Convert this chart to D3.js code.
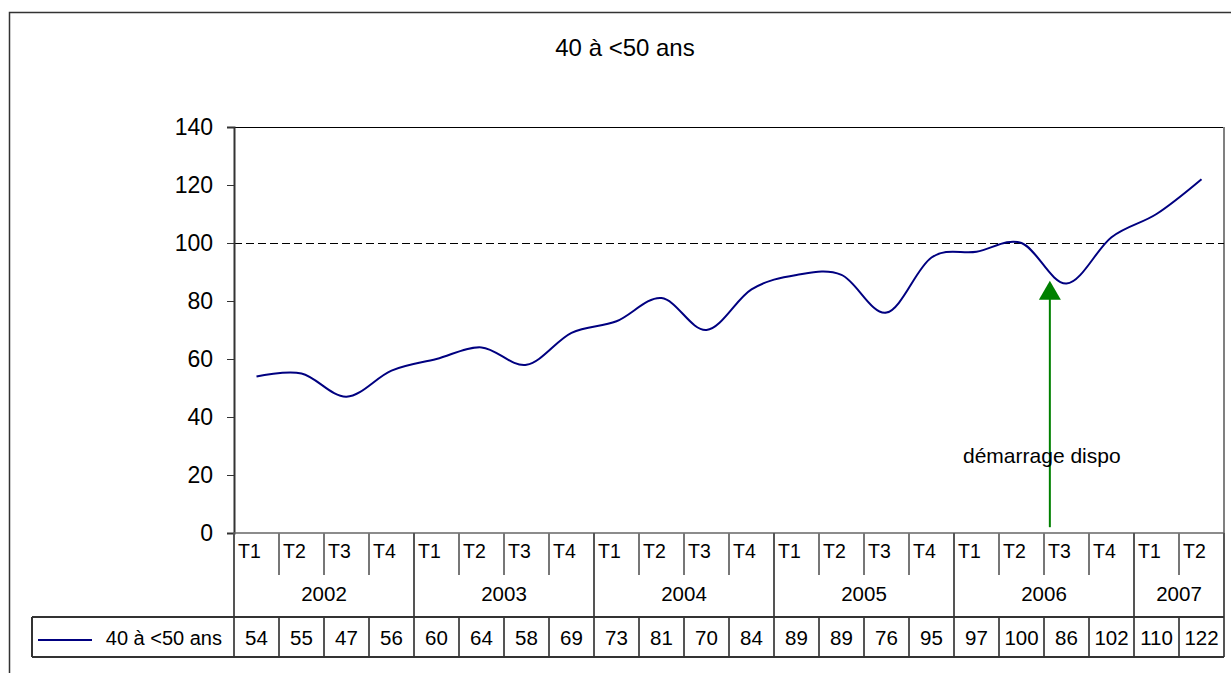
<!DOCTYPE html>
<html>
<head>
<meta charset="utf-8">
<script src="https://cdn.jsdelivr.net/npm/d3@7"></script>
<style>
body { margin: 0; background: #fff; }
svg { display: block; font-family: Arial, "Liberation Sans", sans-serif; }
</style>
</head>
<body>
<div id="chart"></div>
<script>
// Data
const seriesName = "40 à <50 ans";
const quarters = ["T1","T2","T3","T4","T1","T2","T3","T4","T1","T2","T3","T4",
                  "T1","T2","T3","T4","T1","T2","T3","T4","T1","T2"];
const years = ["2002","2003","2004","2005","2006","2007"];
const quartersPerYear = [4, 4, 4, 4, 4, 2];
const values = [54,55,47,56,60,64,58,69,73,81,70,84,89,89,76,95,97,100,86,102,110,122];
const yTicks = [0, 20, 40, 60, 80, 100, 120, 140];
const refValue = 100;
// annotation: position in category units (0 = left edge of first quarter)
const annotationText = "démarrage dispo";
const annotationAt = 18.13;
const annotationFrom = 2;
const annotationTo = 87;
const annotationTextAt = 16.2;
const annotationTextValue = 24;

// set the dimensions
var W = 1231, H = 673;
var plot = {left: 234, right: 1224, top: 127, bottom: 533};
var rowT = 575, rowYear = 617, rowVal = 657, legendLeft = 32;

var svg = d3.select("#chart")
  .append("svg")
  .attr("width", W)
  .attr("height", H);

// outer chart border
svg.append("rect")
  .attr("x", 9.5).attr("y", 12.5)
  .attr("width", 1250).attr("height", 700)
  .attr("fill", "none")
  .attr("stroke", "#333")
  .attr("stroke-width", 1.5);

// title
svg.append("text")
  .attr("x", 625).attr("y", 56)
  .attr("text-anchor", "middle")
  .style("font-size", "24px")
  .text(seriesName);

// scales
var x = d3.scaleBand()
  .domain(d3.range(values.length))
  .range([plot.left, plot.right])
  .paddingInner(0).paddingOuter(0);
var xc = d3.scaleLinear().domain([0, values.length]).range([plot.left, plot.right]);
var y = d3.scaleLinear().domain([0, 140]).range([plot.bottom, plot.top]);

// plot frame: top black, right gray
svg.append("line")
  .attr("x1", plot.left).attr("x2", plot.right)
  .attr("y1", y(140) + 0.5).attr("y2", y(140) + 0.5)
  .attr("stroke", "#000").attr("stroke-width", 1);
svg.append("line")
  .attr("x1", plot.right).attr("x2", plot.right)
  .attr("y1", plot.top).attr("y2", rowVal)
  .attr("stroke", "#808080").attr("stroke-width", 2);

// reference dashed line
svg.append("line")
  .attr("x1", plot.left).attr("x2", plot.right)
  .attr("y1", y(refValue) + 0.5).attr("y2", y(refValue) + 0.5)
  .attr("stroke", "#000").attr("stroke-width", 1)
  .attr("stroke-dasharray", "8,4");

// Y axis
var yAxis = d3.axisLeft(y).tickValues(yTicks).tickSize(7).tickPadding(14);
var gy = svg.append("g")
  .attr("transform", "translate(" + plot.left + ",0)")
  .call(yAxis);
gy.select(".domain").attr("stroke", "#333").attr("stroke-width", 2);
gy.selectAll(".tick line").attr("stroke", "#333");
gy.selectAll(".tick text")
  .style("font-size", "23px")
  .attr("fill", "#000")
  .style("font-family", "Arial, 'Liberation Sans', sans-serif");

// x axis line
svg.append("line")
  .attr("x1", plot.left).attr("x2", plot.right)
  .attr("y1", plot.bottom).attr("y2", plot.bottom)
  .attr("stroke", "#666").attr("stroke-width", 1.5);

// series line (smoothed like Excel)
var line = d3.line()
  .x(function(d, i) { return x(i) + x.bandwidth() / 2; })
  .y(function(d) { return y(d); })
  .curve(d3.curveCatmullRom.alpha(0));
svg.append("path")
  .datum(values)
  .attr("d", line)
  .attr("fill", "none")
  .attr("stroke", "#000080")
  .attr("stroke-width", 2);

// annotation arrow
var ax = xc(annotationAt);
var tipY = y(annotationTo);
svg.append("line")
  .attr("x1", ax).attr("x2", ax)
  .attr("y1", y(annotationFrom)).attr("y2", tipY + 18)
  .attr("stroke", "#008000").attr("stroke-width", 2);
svg.append("path")
  .attr("d", "M" + ax + "," + tipY + "L" + (ax + 11) + "," + (tipY + 19) + "L" + (ax - 11) + "," + (tipY + 19) + "Z")
  .attr("fill", "#008000");
svg.append("text")
  .attr("x", xc(annotationTextAt)).attr("y", y(annotationTextValue))
  .style("font-size", "21px")
  .text(annotationText);

// data table
// year boundaries
var yearStart = [];
var acc = 0;
quartersPerYear.forEach(function(n) { yearStart.push(acc); acc += n; });
var table = svg.append("g").attr("shape-rendering", "crispEdges");

// vertical separators
d3.range(values.length + 1).forEach(function(i) {
  var xx = i < values.length ? x(i) : plot.right;
  var isYear = yearStart.indexOf(i) >= 0 || i === values.length;
  if (isYear) {
    table.append("line")
      .attr("x1", xx).attr("x2", xx).attr("y1", plot.bottom).attr("y2", rowVal)
      .attr("stroke", "#555").attr("stroke-width", 1.3);
  } else {
    table.append("line")
      .attr("x1", xx).attr("x2", xx).attr("y1", plot.bottom).attr("y2", rowT)
      .attr("stroke", "#777").attr("stroke-width", 1.3);
    table.append("line")
      .attr("x1", xx).attr("x2", xx).attr("y1", rowYear).attr("y2", rowVal)
      .attr("stroke", "#555").attr("stroke-width", 1.3);
  }
});

// horizontal lines of table
[rowYear, rowVal].forEach(function(yy) {
  table.append("line")
    .attr("x1", legendLeft).attr("x2", plot.right)
    .attr("y1", yy).attr("y2", yy)
    .attr("stroke", "#333").attr("stroke-width", 1.3);
});
table.append("line")
  .attr("x1", legendLeft).attr("x2", legendLeft)
  .attr("y1", rowYear).attr("y2", rowVal)
  .attr("stroke", "#333").attr("stroke-width", 1.3);

// quarter labels
table.selectAll(".qlab")
  .data(quarters)
  .enter().append("text")
  .attr("class", "qlab")
  .attr("x", function(d, i) { return x(i) + 4; })
  .attr("y", 558)
  .style("font-size", "19.5px")
  .text(function(d) { return d; });

// year labels
table.selectAll(".ylab")
  .data(years)
  .enter().append("text")
  .attr("class", "ylab")
  .attr("x", function(d, i) { return xc(yearStart[i] + quartersPerYear[i] / 2); })
  .attr("y", 601)
  .attr("text-anchor", "middle")
  .style("font-size", "20.5px")
  .text(function(d) { return d; });

// value labels
table.selectAll(".vlab")
  .data(values)
  .enter().append("text")
  .attr("class", "vlab")
  .attr("x", function(d, i) { return x(i) + x.bandwidth() / 2; })
  .attr("y", 645)
  .attr("text-anchor", "middle")
  .style("font-size", "20.5px")
  .text(function(d) { return d; });

// legend key
table.append("line")
  .attr("x1", 38).attr("x2", 92)
  .attr("y1", 640).attr("y2", 640)
  .attr("stroke", "#000080").attr("stroke-width", 1.5);
table.append("text")
  .attr("x", 222).attr("y", 645)
  .attr("text-anchor", "end")
  .style("font-size", "20px")
  .text(seriesName);
</script>
</body>
</html>
